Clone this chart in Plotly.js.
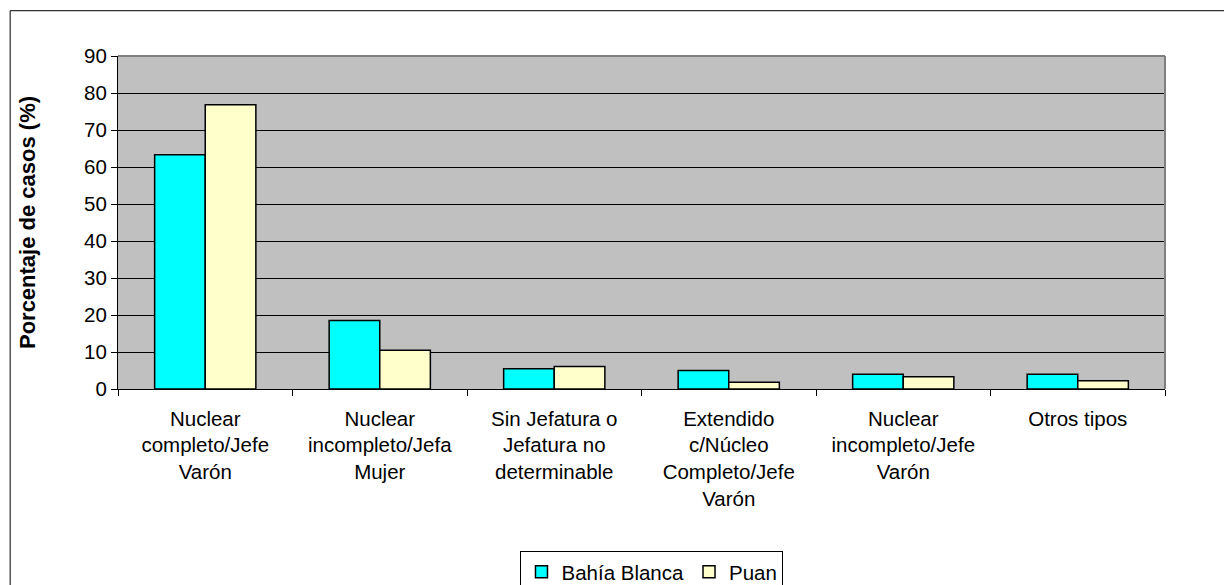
<!DOCTYPE html>
<html>
<head>
<meta charset="utf-8">
<script src="https://cdn.plot.ly/plotly-3.0.1.min.js"></script>
<style>
  html, body { margin: 0; padding: 0; background: #ffffff; }
  #chart { width: 1224px; height: 585px; }
</style>
</head>
<body>
<div id="chart"></div>
<script>
// Household types (category labels, line breaks as drawn under the axis)
const categories = [
  "Nuclear<br>completo/Jefe<br>Varón",
  "Nuclear<br>incompleto/Jefa<br>Mujer",
  "Sin Jefatura o<br>Jefatura no<br>determinable",
  "Extendido<br>c/Núcleo<br>Completo/Jefe<br>Varón",
  "Nuclear<br>incompleto/Jefe<br>Varón",
  "Otros tipos"
];

// Percentage of cases per household type
const bahiaBlanca = [63.3, 18.5, 5.5, 5.0, 4.0, 4.0];
const puan = [76.8, 10.5, 6.1, 1.8, 3.3, 2.2];

const seriesNames = ["Bahía Blanca", "Puan"];
const yTitle = "Porcentaje de casos (%)";

const FONT = "Arial, 'Liberation Sans', sans-serif";

const traces = [
  {
    type: "bar",
    name: seriesNames[0],
    x: categories,
    y: bahiaBlanca,
    marker: { color: "#00FFFF", line: { color: "#000000", width: 1.5 } },
    hoverinfo: "none"
  },
  {
    type: "bar",
    name: seriesNames[1],
    x: categories,
    y: puan,
    marker: { color: "#FFFFCC", line: { color: "#000000", width: 1.5 } },
    hoverinfo: "none"
  }
];

const layout = {
  width: 1224,
  height: 585,
  margin: { l: 118, r: 59, t: 56, b: 196, autoexpand: false },
  paper_bgcolor: "#ffffff",
  plot_bgcolor: "#C0C0C0",
  font: { family: FONT, size: 20.5, color: "#000000" },
  barmode: "group",
  bargap: 0.42,
  bargroupgap: 0,
  showlegend: true,
  legend: {
    orientation: "h",
    x: 0.51,
    xanchor: "center",
    y: -0.4865,
    yanchor: "top",
    bgcolor: "#ffffff",
    bordercolor: "#000000",
    borderwidth: 1,
    font: { family: FONT, size: 20.5, color: "#000000" },
    itemwidth: 30,
    tracegroupgap: 0
  },
  xaxis: {
    type: "category",
    showline: true,
    linecolor: "#000000",
    linewidth: 1,
    ticks: "outside",
    tickson: "boundaries",
    ticklen: 6,
    tickcolor: "#000000",
    tickfont: { family: FONT, size: 20.5, color: "#000000" },
    ticklabelstandoff: 11,
    showgrid: false,
    fixedrange: true
  },
  yaxis: {
    range: [0, 90],
    dtick: 10,
    tick0: 0,
    showline: true,
    linecolor: "#000000",
    linewidth: 1,
    ticks: "outside",
    ticklen: 6,
    tickcolor: "#000000",
    tickfont: { family: FONT, size: 20.5, color: "#000000" },
    showgrid: true,
    gridcolor: "#000000",
    gridwidth: 1,
    zeroline: false,
    title: {
      text: "<b>" + yTitle + "</b>",
      font: { family: FONT, size: 22, color: "#000000" },
      standoff: 42
    },
    fixedrange: true
  },
  shapes: [
    // gray frame on the top and right of the plotting area
    { type: "line", xref: "paper", yref: "paper", x0: 0, x1: 1, y0: 1, y1: 1,
      line: { color: "#808080", width: 2 } },
    { type: "line", xref: "paper", yref: "paper", x0: 1, x1: 1, y0: 0, y1: 1,
      line: { color: "#808080", width: 2 } },
    // outer chart border
    { type: "rect", xref: "paper", yref: "paper",
      x0: -0.103, x1: 1.1, y0: -0.7, y1: 1.136,
      line: { color: "#000000", width: 1 }, fillcolor: "rgba(0,0,0,0)" }
  ]
};

Plotly.newPlot("chart", traces, layout, { displayModeBar: false, staticPlot: true });
</script>
</body>
</html>
